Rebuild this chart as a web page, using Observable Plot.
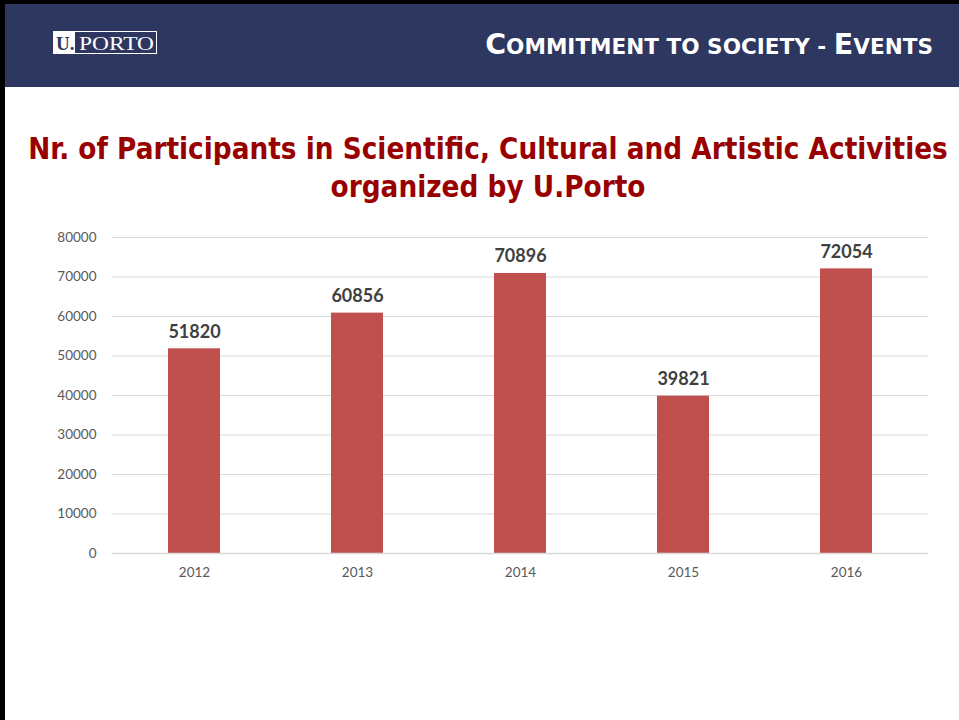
<!DOCTYPE html>
<html>
<head>
<meta charset="utf-8">
<script src="https://cdn.jsdelivr.net/npm/d3@7"></script>
<script src="https://cdn.jsdelivr.net/npm/@observablehq/plot@0.6"></script>
<style>
  html, body { margin: 0; padding: 0; background: #fff; }
  #page { position: relative; width: 959px; height: 720px; overflow: hidden; background: #fff; }
  #deco { position: absolute; left: 0; top: 0; }
  #chart { position: absolute; left: 0; top: 220px; }
</style>
</head>
<body>
<div id="page">
  <svg id="deco" width="959" height="720" xmlns="http://www.w3.org/2000/svg">
    <rect x="0" y="0" width="959" height="4" fill="#000"/>
    <rect x="0" y="0" width="5" height="720" fill="#000"/>
    <rect x="5" y="4" width="954" height="83" fill="#2e3760"/>
    <!-- logo -->
    <rect x="53.5" y="31.5" width="103" height="22" fill="none" stroke="#ffffff" stroke-width="1"/>
    <rect x="53" y="31" width="22" height="23" fill="#ffffff"/>
    <text x="56" y="50" font-family="Liberation Serif" font-weight="bold" font-size="19" fill="#2e3760">U.</text>
    <text x="79" y="50" font-family="Liberation Serif" font-size="19" fill="#ffffff" textLength="75" lengthAdjust="spacingAndGlyphs">PORTO</text>
    <!-- header title -->
    <text class="fit" data-x="933" data-y="54" data-w="448" data-anchor="end" font-family="DejaVu Sans Condensed, DejaVu Sans" font-weight="bold" fill="#ffffff"><tspan font-size="29">C</tspan><tspan font-size="22">OMMITMENT TO SOCIETY - </tspan><tspan font-size="29">E</tspan><tspan font-size="22">VENTS</tspan></text>
    <!-- chart title -->
    <text class="fit" data-x="488" data-y="159" data-w="920" data-anchor="middle" font-family="DejaVu Sans Condensed, DejaVu Sans" font-weight="bold" font-size="30" fill="#990000">Nr. of Participants in Scientific, Cultural and Artistic Activities</text>
    <text class="fit" data-x="488" data-y="197" data-w="315" data-anchor="middle" font-family="DejaVu Sans Condensed, DejaVu Sans" font-weight="bold" font-size="30" fill="#990000">organized by U.Porto</text>
  </svg>
  <div id="chart"></div>
</div>
<script>
const years = ["2012", "2013", "2014", "2015", "2016"];
const participants = [51820, 60856, 70896, 39821, 72054];
const yTicks = [0, 10000, 20000, 30000, 40000, 50000, 60000, 70000, 80000];

const data = years.map((year, i) => ({year, value: participants[i]}));

// fit decorative texts to their measured widths in the reference
document.querySelectorAll("#deco text.fit").forEach(t => {
  const w = +t.dataset.w, x = +t.dataset.x, y = +t.dataset.y, anchor = t.dataset.anchor;
  t.setAttribute("text-anchor", anchor);
  const len = t.getComputedTextLength();
  const s = len > 0 ? w / len : 1;
  t.setAttribute("transform", `translate(${x},${y}) scale(${s},1)`);
});

const plot = Plot.plot({
  width: 959,
  height: 373,
  marginTop: 17,
  marginBottom: 40,
  marginLeft: 112,
  marginRight: 31,
  style: {fontFamily: "Lato, 'Open Sans', sans-serif", fontSize: "13.5px", color: "#595959", background: "transparent"},
  x: {domain: years, paddingInner: 0.68, paddingOuter: 0.34, label: null, tickSize: 0, tickPadding: 14},
  y: {domain: [0, 80000], ticks: yTicks, label: null, tickSize: 0, tickPadding: 16, tickFormat: "d"},
  marks: [
    Plot.gridY(yTicks, {stroke: "#d9d9d9", strokeOpacity: 1}),
    Plot.barY(data, {x: "year", y: "value", fill: "#c0504d"}),
    Plot.ruleY([0], {stroke: "#d9d9d9", strokeWidth: 1.5}),
    Plot.text(data, {x: "year", y: "value", text: d => String(d.value), lineAnchor: "bottom", dy: -11, fontSize: 18, fontWeight: "bold", fill: "#404040"})
  ]
});
document.getElementById("chart").appendChild(plot);
</script>
</body>
</html>
